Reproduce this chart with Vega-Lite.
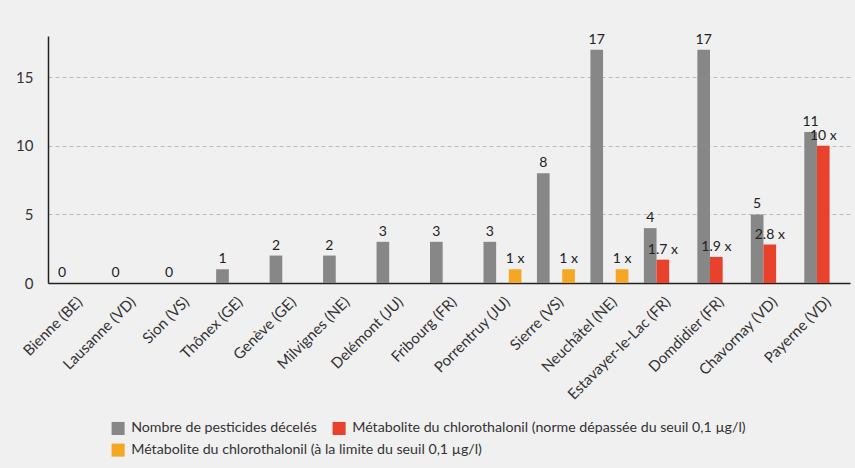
{
  "$schema": "https://vega.github.io/schema/vega-lite/v6.json",
  "width": 802,
  "height": 247,
  "autosize": {"type": "none"},
  "padding": {"left": 48, "top": 36, "right": 5, "bottom": 185},
  "background": "#f0f0f0",
  "config": {
    "font": "Lato",
    "view": {"stroke": null},
    "axis": {"labelFont": "Lato", "labelColor": "#333333", "labelFontSize": 15},
    "legend": {"labelFont": "Lato", "labelColor": "#333333", "labelFontSize": 14.2}
  },
  "data": {
    "values": [
      {"ville": "Bienne (BE)", "serie": "Nombre de pesticides décelés", "valeur": 0, "etiquette": "0"},
      {"ville": "Lausanne (VD)", "serie": "Nombre de pesticides décelés", "valeur": 0, "etiquette": "0"},
      {"ville": "Sion (VS)", "serie": "Nombre de pesticides décelés", "valeur": 0, "etiquette": "0"},
      {"ville": "Thônex (GE)", "serie": "Nombre de pesticides décelés", "valeur": 1, "etiquette": "1"},
      {"ville": "Genève (GE)", "serie": "Nombre de pesticides décelés", "valeur": 2, "etiquette": "2"},
      {"ville": "Milvignes (NE)", "serie": "Nombre de pesticides décelés", "valeur": 2, "etiquette": "2"},
      {"ville": "Delémont (JU)", "serie": "Nombre de pesticides décelés", "valeur": 3, "etiquette": "3"},
      {"ville": "Fribourg (FR)", "serie": "Nombre de pesticides décelés", "valeur": 3, "etiquette": "3"},
      {"ville": "Porrentruy (JU)", "serie": "Nombre de pesticides décelés", "valeur": 3, "etiquette": "3"},
      {"ville": "Porrentruy (JU)", "serie": "Métabolite du chlorothalonil (à la limite du seuil 0,1 µg/l)", "valeur": 1, "etiquette": "1 x"},
      {"ville": "Sierre (VS)", "serie": "Nombre de pesticides décelés", "valeur": 8, "etiquette": "8"},
      {"ville": "Sierre (VS)", "serie": "Métabolite du chlorothalonil (à la limite du seuil 0,1 µg/l)", "valeur": 1, "etiquette": "1 x"},
      {"ville": "Neuchâtel (NE)", "serie": "Nombre de pesticides décelés", "valeur": 17, "etiquette": "17"},
      {"ville": "Neuchâtel (NE)", "serie": "Métabolite du chlorothalonil (à la limite du seuil 0,1 µg/l)", "valeur": 1, "etiquette": "1 x"},
      {"ville": "Estavayer-le-Lac (FR)", "serie": "Nombre de pesticides décelés", "valeur": 4, "etiquette": "4"},
      {"ville": "Estavayer-le-Lac (FR)", "serie": "Métabolite du chlorothalonil (norme dépassée du seuil 0,1 µg/l)", "valeur": 1.7, "etiquette": "1.7 x"},
      {"ville": "Domdidier (FR)", "serie": "Nombre de pesticides décelés", "valeur": 17, "etiquette": "17"},
      {"ville": "Domdidier (FR)", "serie": "Métabolite du chlorothalonil (norme dépassée du seuil 0,1 µg/l)", "valeur": 1.9, "etiquette": "1.9 x"},
      {"ville": "Chavornay (VD)", "serie": "Nombre de pesticides décelés", "valeur": 5, "etiquette": "5"},
      {"ville": "Chavornay (VD)", "serie": "Métabolite du chlorothalonil (norme dépassée du seuil 0,1 µg/l)", "valeur": 2.8, "etiquette": "2.8 x"},
      {"ville": "Payerne (VD)", "serie": "Nombre de pesticides décelés", "valeur": 11, "etiquette": "11"},
      {"ville": "Payerne (VD)", "serie": "Métabolite du chlorothalonil (norme dépassée du seuil 0,1 µg/l)", "valeur": 10, "etiquette": "10 x"}
    ]
  },
  "encoding": {
    "x": {
      "field": "ville",
      "type": "nominal",
      "sort": null,
      "scale": {"paddingInner": 0.29, "paddingOuter": 0.145},
      "axis": {
        "title": null,
        "labelAngle": -45,
        "ticks": false,
        "labelPadding": 11,
        "domainColor": "#222222",
        "domainWidth": 1.5
      }
    },
    "xOffset": {
      "field": "serie",
      "type": "nominal",
      "scale": {
        "domain": [
          "Nombre de pesticides décelés",
          "Métabolite du chlorothalonil (norme dépassée du seuil 0,1 µg/l)",
          "Métabolite du chlorothalonil (à la limite du seuil 0,1 µg/l)"
        ],
        "paddingInner": 0
      }
    },
    "y": {
      "field": "valeur",
      "type": "quantitative",
      "scale": {"domain": [0, 18], "nice": false},
      "axis": {
        "title": null,
        "values": [0, 5, 10, 15],
        "ticks": false,
        "labelPadding": 15,
        "domainColor": "#222222",
        "domainWidth": 1.5,
        "gridColor": "#bbbbbb",
        "gridDash": [4, 3]
      }
    }
  },
  "layer": [
    {
      "transform": [{"filter": "datum.serie !== 'Métabolite du chlorothalonil (à la limite du seuil 0,1 µg/l)'"}],
      "mark": {"type": "bar"},
      "encoding": {
        "color": {
          "field": "serie",
          "type": "nominal",
          "scale": {
            "domain": [
              "Nombre de pesticides décelés",
              "Métabolite du chlorothalonil (norme dépassée du seuil 0,1 µg/l)"
            ],
            "range": ["#878787", "#e8412c"]
          },
          "legend": {
            "title": null,
            "orient": "none",
            "direction": "horizontal",
            "legendX": 63,
            "legendY": 385,
            "labelLimit": 0,
            "symbolType": "square",
            "symbolSize": 170,
            "symbolStrokeWidth": 0,
            "columnPadding": 15,
            "labelOffset": 6
          }
        }
      }
    },
    {
      "transform": [{"filter": "datum.serie === 'Métabolite du chlorothalonil (à la limite du seuil 0,1 µg/l)'"}],
      "mark": {"type": "bar"},
      "encoding": {
        "fill": {
          "field": "serie",
          "type": "nominal",
          "scale": {
            "domain": ["Métabolite du chlorothalonil (à la limite du seuil 0,1 µg/l)"],
            "range": ["#f5a623"]
          },
          "legend": {
            "title": null,
            "orient": "none",
            "direction": "horizontal",
            "legendX": 63,
            "legendY": 407,
            "labelLimit": 0,
            "symbolType": "square",
            "symbolSize": 170,
            "symbolStrokeWidth": 0,
            "labelOffset": 6
          }
        }
      }
    },
    {
      "mark": {"type": "text", "baseline": "alphabetic", "dy": -6, "fontSize": 14, "color": "#222222"},
      "encoding": {"text": {"field": "etiquette"}}
    }
  ]
}
